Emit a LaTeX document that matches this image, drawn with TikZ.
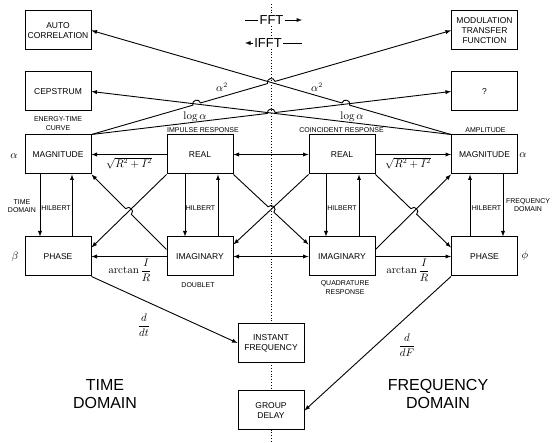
\documentclass[tikz,border=0pt]{standalone}
\usepackage{amsmath}
\usepackage{amssymb}
\usepackage[no-math]{fontspec}
\setmainfont{Liberation Sans}
\usetikzlibrary{arrows,calc,intersections}

\begin{document}
\begin{tikzpicture}[x=1pt,y=-1pt,>=latex]
\tikzset{box/.style={draw,line width=1pt,fill=white,minimum width=66pt,minimum height=39pt,inner sep=1pt,align=center,font=\fontsize{8.5}{10}\selectfont},
lbl/.style={align=center,inner sep=0.5pt,font=\fontsize{7}{8.5}\selectfont},
dom/.style={align=center,font=\fontsize{16}{18.5}\selectfont},
fft/.style={fill=white,inner sep=1pt,font=\fontsize{13}{15}\selectfont},
mth/.style={inner sep=1pt,font=\fontsize{10.5}{12}\selectfont},
ln/.style={line width=0.9pt},
hopl/.style={bend left=90,looseness=1.7},
hopr/.style={bend right=90,looseness=1.7}}
\useasboundingbox (0,0) rectangle (555,443);
\draw[dotted,line width=0.8pt] (271,4) -- (271,443);

% boxes
\node[box] (acor) at (58,30.5) {AUTO\\CORRELATION};
\node[box] (ceps) at (58,91.5) {CEPSTRUM};
\node[box] (magL) at (58,154.5) {MAGNITUDE};
\node[box] (phL) at (58,256.5) {PHASE};
\node[box] (reL) at (200,154.5) {REAL};
\node[box] (imL) at (200,256.5) {IMAGINARY};
\node[box] (reR) at (342,154.5) {REAL};
\node[box] (imR) at (342,256.5) {IMAGINARY};
\node[box] (magR) at (484.5,154.5) {MAGNITUDE};
\node[box] (phR) at (484.5,256.5) {PHASE};
\node[box] (mtf) at (484.5,30.5) {MODULATION\\TRANSFER\\FUNCTION};
\node[box] (qbox) at (484.5,91.5) {?};
\node[box] (inst) at (271,343) {INSTANT\\FREQUENCY};
\node[box] (grp) at (271,410.5) {GROUP\\DELAY};

% FFT / IFFT
\node[fft] (fft) at (271.5,20) {FFT};
\node[fft] (ifft) at (268,43) {IFFT};
\coordinate (fftA) at (245,20);
\coordinate (fftB) at (302,20);
\coordinate (ifftA) at (245,43);
\coordinate (ifftB) at (302,43);
\draw[ln] (fftA) -- (fft);
\draw[ln,->] (fft) -- (fftB);
\draw[ln,->] (ifft) -- (ifftA);
\draw[ln] (ifft) -- (ifftB);

% long lines to the top boxes
\path[name path=p1] (magL.north east) -- (mtf.west);
\path[name path=p2] (magR.north west) -- (acor.east);
\path[name path=p3] (magL.north east) -- (qbox.west);
\path[name path=p4] (magR.north west) -- (ceps.east);
\path[name intersections={of=p1 and p4,by=c14}];
\path[name intersections={of=p1 and p2,by=c12}];
\path[name intersections={of=p2 and p3,by=c23}];
\path[name intersections={of=p3 and p4,by=c34}];
\draw[ln,->] (magL.north east) -- ($(c14)!4pt!(magL.north east)$) to[hopl] ($(c14)!4pt!(mtf.west)$)
  -- ($(c12)!4pt!(magL.north east)$) to[hopl] ($(c12)!4pt!(mtf.west)$) -- (mtf.west);
\draw[ln,->] (magR.north west) -- ($(c23)!4pt!(magR.north west)$) to[hopr] ($(c23)!4pt!(acor.east)$) -- (acor.east);
\draw[ln,->] (magL.north east) -- ($(c34)!4pt!(magL.north east)$) to[hopl] ($(c34)!4pt!(qbox.west)$) -- (qbox.west);
\draw[ln,->] (magR.north west) -- (ceps.east);

% horizontal arrows
\draw[ln,->] (reL.west) -- (magL.east);
\draw[ln,<->] (reL.east) -- (reR.west);
\draw[ln,->] (reR.east) -- (magR.west);
\draw[ln,->] (imL.west) -- (phL.east);
\draw[ln,<->] (imL.east) -- (imR.west);
\draw[ln,->] (imR.east) -- (phR.west);

% hilbert pairs
\draw[ln,->] ([xshift=-18pt]magL.south) -- ([xshift=-18pt]phL.north);
\draw[ln,->] ([xshift=14pt]phL.north) -- ([xshift=14pt]magL.south);
\draw[ln,->] ([xshift=-15pt]reL.south) -- ([xshift=-15pt]imL.north);
\draw[ln,->] ([xshift=18pt]imL.north) -- ([xshift=18pt]reL.south);
\draw[ln,->] ([xshift=-16pt]reR.south) -- ([xshift=-16pt]imR.north);
\draw[ln,->] ([xshift=17pt]imR.north) -- ([xshift=17pt]reR.south);
\draw[ln,->] ([xshift=-14.5pt]phR.north) -- ([xshift=-14.5pt]magR.south);
\draw[ln,->] ([xshift=18.5pt]magR.south) -- ([xshift=18.5pt]phR.north);

% diagonals
\coordinate (phLin) at ($(phL.north east)+(0,11)$);
\coordinate (imLout) at ($(imL.north west)+(0,13)$);
\coordinate (phRin) at ($(phR.north west)+(0,11)$);
\coordinate (imRout) at ($(imR.north east)+(0,13)$);
\coordinate (imLin) at ($(imL.north east)+(0,8)$);
\coordinate (imRin) at ($(imR.north west)+(0,8)$);
\path[name path=dl1] (reL.south west) -- (phLin);
\path[name path=dl2] (imLout) -- (magL.south east);
\path[name path=dr1] (reR.south east) -- (phRin);
\path[name path=dr2] (imRout) -- (magR.south west);
\path[name path=dc1] (reL.south east) -- (imRin);
\path[name path=dc2] (reR.south west) -- (imLin);
\path[name intersections={of=dl1 and dl2,by=cL}];
\path[name intersections={of=dr1 and dr2,by=cR}];
\path[name intersections={of=dc1 and dc2,by=cC}];
\draw[ln,->] (reL.south west) -- (phLin);
\draw[ln,->] (imLout) -- ($(cL)!4pt!(imLout)$) to[hopr] ($(cL)!4pt!(magL.south east)$) -- (magL.south east);
\draw[ln,->] (reR.south east) -- ($(cR)!4pt!(reR.south east)$) to[hopl] ($(cR)!4pt!(phRin)$) -- (phRin);
\draw[ln,->] (imRout) -- (magR.south west);
\draw[ln,->] (reL.south east) -- ($(cC)!4pt!(reL.south east)$) to[hopl] ($(cC)!4pt!(imRin)$) -- (imRin);
\draw[ln,->] (reR.south west) -- (imLin);

% to the bottom boxes
\draw[ln,->] (phL.south east) -- (inst.west);
\draw[ln,->] (phR.south west) -- (grp.east);

% small labels
\node[lbl] (etc) at (58,123.5) {ENERGY-TIME\\CURVE};
\node[lbl] (imp) at (203,130.5) {IMPULSE RESPONSE};
\node[lbl] (coin) at (341.5,130.5) {COINCIDENT RESPONSE};
\node[lbl] (ampl) at (485.5,130.5) {AMPLITUDE};
\node[lbl] (tdom) at (22,206) {TIME\\DOMAIN};
\node[lbl] (fdom) at (528,205) {FREQUENCY\\DOMAIN};
\node[lbl] (hil1) at (56,208) {HILBERT};
\node[lbl] (hil2) at (200.5,208) {HILBERT};
\node[lbl] (hil3) at (342,208) {HILBERT};
\node[lbl] (hil4) at (486.5,208) {HILBERT};
\node[lbl] (dblt) at (198,285) {DOUBLET};
\node[lbl] (quad) at (345,287.5) {QUADRATURE\\RESPONSE};

% math labels
\node[mth] (sqL) at (129,163) {$\sqrt{R^2+I^2}$};
\node[mth] (sqR) at (408,163) {$\sqrt{R^2+I^2}$};
\node[mth] (atL) at (130,270) {$\arctan\dfrac{I}{R}$};
\node[mth] (atR) at (408,270) {$\arctan\dfrac{I}{R}$};
\node[mth] (a2L) at (222,87) {$\alpha^2$};
\node[mth] (a2R) at (317,87) {$\alpha^2$};
\node[mth] (lgL) at (195,117) {$\log\alpha$};
\node[mth] (lgR) at (352,117) {$\log\alpha$};
\node[mth] (ddt) at (144,325) {$\dfrac{d}{dt}$};
\node[mth] (ddf) at (407,345) {$\dfrac{d}{dF}$};
\node[mth,font=\fontsize{11}{12}\selectfont] (alL) at (14,156) {$\alpha$};
\node[mth,font=\fontsize{11}{12}\selectfont] (beL) at (15,257) {$\beta$};
\node[mth,font=\fontsize{11}{12}\selectfont] (alR) at (523,155) {$\alpha$};
\node[mth,font=\fontsize{11}{12}\selectfont] (phi) at (525,256) {$\phi$};

% domain titles
\node[dom] (tdm) at (105,394) {TIME\\DOMAIN};
\node[dom] (fdm) at (438,394) {FREQUENCY\\DOMAIN};
\end{tikzpicture}
\end{document}
